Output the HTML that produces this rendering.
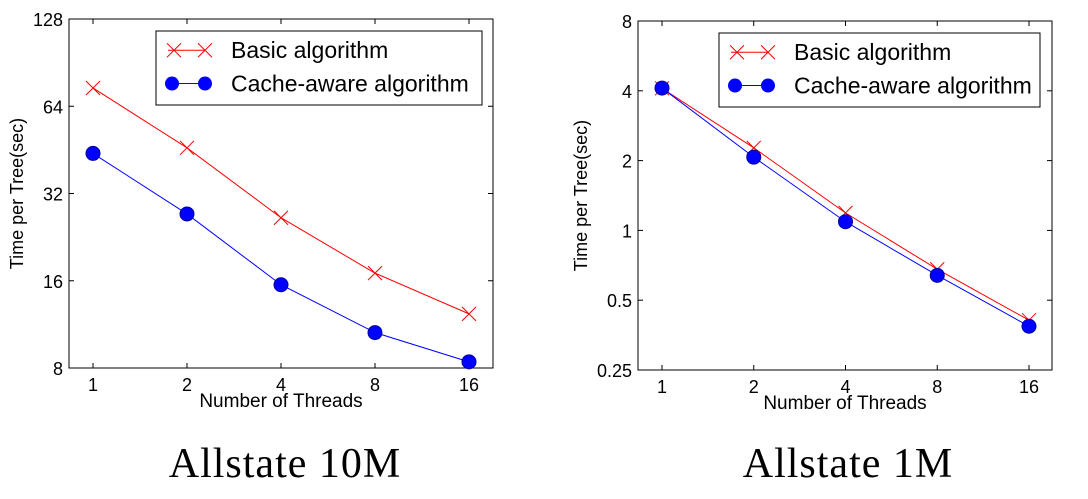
<!DOCTYPE html>
<html><head><meta charset="utf-8"><style>
body{margin:0;background:#fff;width:1088px;height:494px;overflow:hidden}
svg text{font-family:"Liberation Sans",Arial,sans-serif}
</style></head><body>
<svg id="svg" width="1088" height="494"></svg>
<script>
const threads=[1,2,4,8,16];
const basic10M=[74,46,26.4,17,12.3];
const cache10M=[44,27.2,15.5,10.6,8.4];
const basic1M=[4.1,2.27,1.19,0.68,0.41];
const cache1M=[4.11,2.07,1.09,0.64,0.386];
const yTicks10M=[8,16,32,64,128];
const yTicks1M=[0.25,0.5,1,2,4,8];
const seriesNames=["Basic algorithm","Cache-aware algorithm"];
const NS="http://www.w3.org/2000/svg";
const svg=document.getElementById('svg');
function mk(tag,attrs,parent){const e=document.createElementNS(NS,tag);for(const k in attrs)e.setAttribute(k,attrs[k]);(parent||svg).appendChild(e);return e;}
function panel(cfg){
  const g=mk('g',{});
  
  
  const {L,R,T,B,x0,x1,yMin,yMax}=cfg;
  const xs=v=>x0+(Math.log2(v))/4*(x1-x0);
  const ys=v=>B-(Math.log2(v)-Math.log2(yMin))/(Math.log2(yMax)-Math.log2(yMin))*(B-T);
  const box=mk('rect',{x:L,y:T,width:R-L,height:B-T,fill:'none',stroke:'#000','stroke-width':1},g);
  
  
  threads.forEach(t=>{const x=xs(t);
    mk('line',{x1:x,x2:x,y1:B,y2:B-5,stroke:'#000'},g);mk('line',{x1:x,x2:x,y1:T,y2:T+5,stroke:'#000'},g);
    const tx=mk('text',{x:x,y:B+23,'text-anchor':'middle','font-size':18},g);tx.textContent=t;
    
    
  });
  cfg.yTicks.forEach(v=>{const y=ys(v);
    mk('line',{x1:L,x2:L+5,y1:y,y2:y,stroke:'#000'},g);mk('line',{x1:R,x2:R-5,y1:y,y2:y,stroke:'#000'},g);
    const tx=mk('text',{x:L-6,y:y+7,'text-anchor':'end','font-size':18},g);tx.textContent=v;
    
    
  });
  const xl=mk('text',{x:(L+R)/2,y:B+39,'text-anchor':'middle','font-size':19},g);xl.textContent='Number of Threads';
  
  
  const yl=mk('text',{transform:`translate(${cfg.yLabX},${(T+B)/2}) rotate(-90)`,'text-anchor':'middle','font-size':18},g);yl.textContent='Time per Tree(sec)';
  
  
  const pb=mk('polyline',{points:threads.map((t,i)=>xs(t)+','+ys(cfg.basic[i])).join(' '),fill:'none',stroke:'#f00','stroke-width':1},g);
  
  
  const pc=mk('polyline',{points:threads.map((t,i)=>xs(t)+','+ys(cfg.cache[i])).join(' '),fill:'none',stroke:'#00f','stroke-width':1},g);
  
  
  threads.forEach((t,i)=>{const x=xs(t),y=ys(cfg.basic[i]),s=7;
    const m=mk('path',{d:`M${x-s},${y-s}L${x+s},${y+s}M${x-s},${y+s}L${x+s},${y-s}`,stroke:'#f00','stroke-width':1},g);
    
    
  });
  threads.forEach((t,i)=>{
    const c=mk('circle',{cx:xs(t),cy:ys(cfg.cache[i]),r:7,fill:'#00f',stroke:'#0000a0'},g);
    
    
  });
  const lg=mk('g',{},g);
  
  
  const [lx,ly,lw,lh]=cfg.legend;
  mk('rect',{x:lx,y:ly,width:lw,height:lh,fill:'#fff',stroke:'#000'},lg);
  const y1=ly+lh*0.26,y2=ly+lh*0.71;
  mk('line',{x1:lx+12,x2:lx+49,y1:y1,y2:y1,stroke:'#f00'},lg);
  [lx+18,lx+49].forEach(x=>mk('path',{d:`M${x-7},${y1-7}L${x+7},${y1+7}M${x-7},${y1+7}L${x+7},${y1-7}`,stroke:'#f00'},lg));
  mk('line',{x1:lx+16,x2:lx+49,y1:y2,y2:y2,stroke:'#00f'},lg);
  [lx+16,lx+49].forEach(x=>mk('circle',{cx:x,cy:y2,r:7,fill:'#00f'},lg));
  seriesNames.forEach((n,i)=>{const t=mk('text',{x:lx+75,y:(i?y2:y1)+8,'font-size':23},lg);t.textContent=n;
    
    });
  const tt=mk('text',{x:cfg.titleX,y:477,'text-anchor':'middle','font-size':42,'letter-spacing':1,style:'font-family:"Liberation Serif",serif'},g);tt.textContent=cfg.title;
  
  
}
panel({name:'chart-allstate-10m',L:69,R:493,T:19,B:368,x0:93,x1:469,yMin:8,yMax:128,yTicks:yTicks10M,basic:basic10M,cache:cache10M,legend:[156,31,326,74],yLabX:23,title:'Allstate 10M',titleX:285});
panel({name:'chart-allstate-1m',L:638,R:1052,T:21,B:370,x0:662,x1:1029,yMin:0.25,yMax:8,yTicks:yTicks1M,basic:basic1M,cache:cache1M,legend:[719,33,321,74],yLabX:587,title:'Allstate 1M',titleX:848});
</script>
</body></html>
